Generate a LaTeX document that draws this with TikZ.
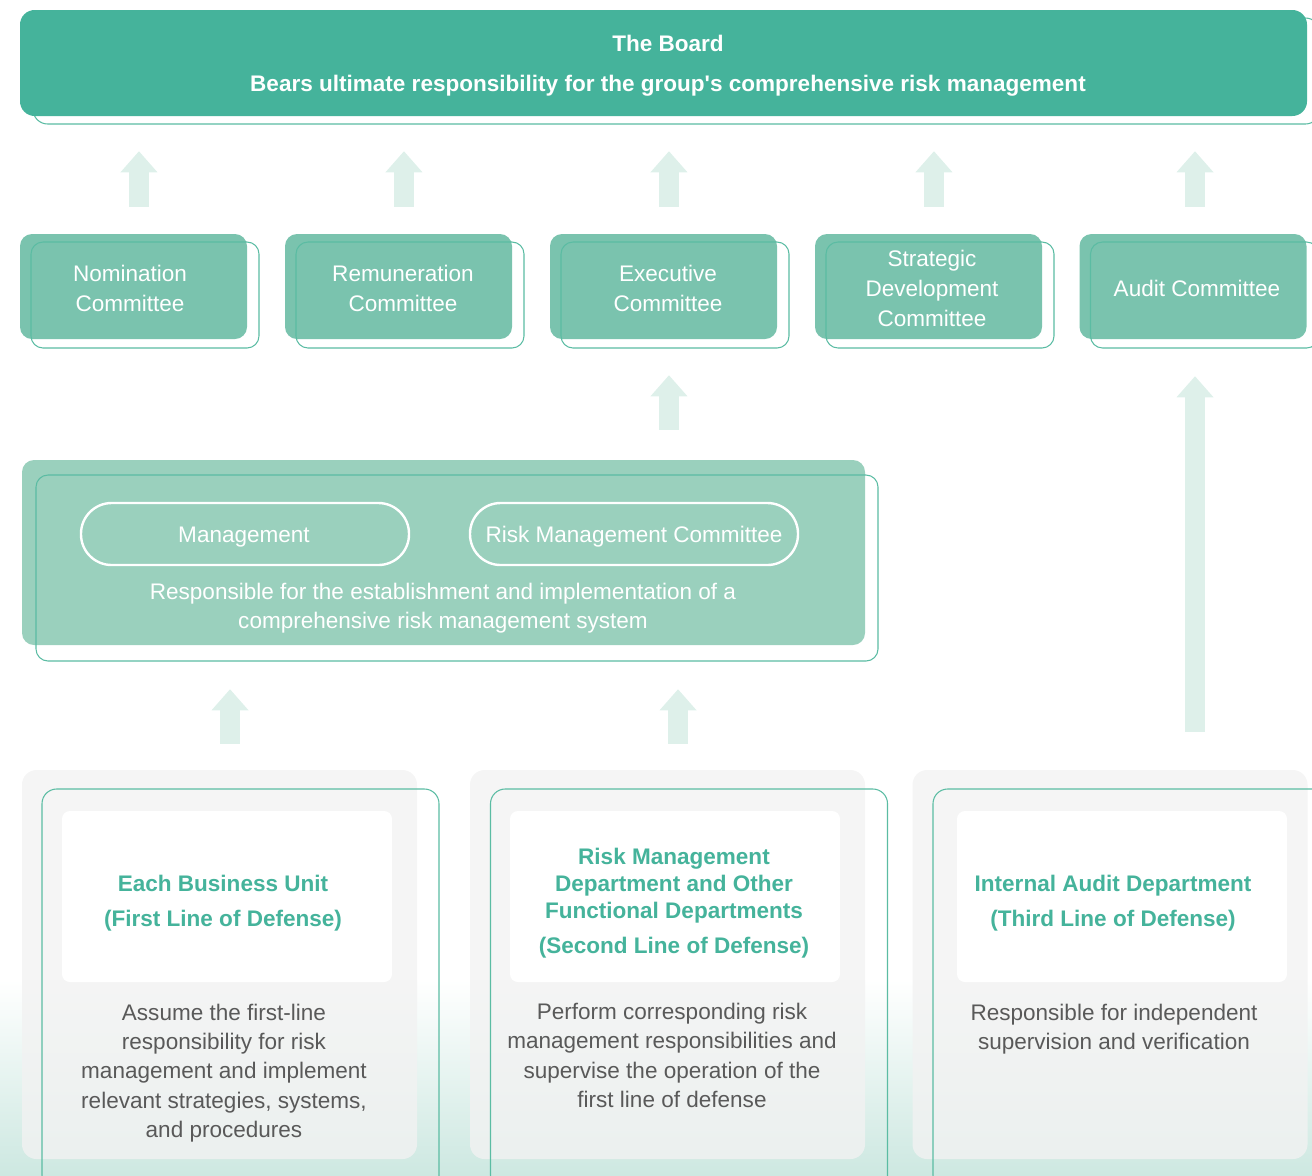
\documentclass[tikz,border=0pt]{standalone}
\usepackage{fontspec}
\setmainfont{Liberation Sans}
\usetikzlibrary{arrows.meta,calc}
\definecolor{boardc}{HTML}{45B39B}
\definecolor{commc}{HTML}{7AC3AE}
\definecolor{midc}{HTML}{9AD0BD}
\definecolor{arrowc}{HTML}{DEF0EA}
\definecolor{linec}{HTML}{5BBCA3}
\definecolor{grayc}{HTML}{F2F2F2}
\definecolor{titlec}{HTML}{45B39B}
\definecolor{descc}{HTML}{595959}
\definecolor{gradc}{HTML}{CDE8E1}
\begin{document}
\begin{tikzpicture}[x=0.75pt,y=-0.75pt,
  outl/.style={draw=linec,line width=0.8pt,inner sep=0pt},
  boardbox/.style={fill=boardc,rounded corners=11pt,minimum width=965.25pt,minimum height=79.5pt,inner sep=0pt},
  boardtext/.style={text=white,align=center,inner sep=0pt,font=\bfseries\fontsize{16.9pt}{30pt}\selectfont},
  commbox/.style={fill=commc,rounded corners=9pt,minimum width=170.25pt,minimum height=78.75pt,inner sep=0pt},
  commtext/.style={text=white,align=center,inner sep=0pt,font=\fontsize{16.9pt}{22.5pt}\selectfont},
  commout/.style={outl,rounded corners=9pt,minimum width=171pt,minimum height=79.5pt},
  midbox/.style={fill=midc,rounded corners=9pt,minimum width=632.25pt,minimum height=138.75pt,inner sep=0pt},
  midout/.style={outl,rounded corners=9pt,minimum width=631.5pt,minimum height=139.5pt},
  pill/.style={draw=white,line width=1.8pt,rounded corners=23pt,minimum width=246pt,minimum height=46.5pt,
    text=white,inner sep=0pt,font=\fontsize{16.9pt}{22pt}\selectfont},
  midtext/.style={text=white,align=center,inner sep=0pt,font=\fontsize{16.9pt}{22pt}\selectfont},
  graybox/.style={fill=grayc,fill opacity=0.8,rounded corners=11pt,minimum width=296.25pt,minimum height=291.75pt,inner sep=0pt},
  grayout/.style={outl,rounded corners=11pt,minimum width=297.75pt,minimum height=300.75pt},
  whitebox/.style={fill=white,rounded corners=6pt,minimum width=247.5pt,minimum height=128.25pt,inner sep=0pt},
  title/.style={text=titlec,align=center,inner sep=0pt,font=\bfseries\fontsize{16.9pt}{26.25pt}\selectfont},
  desc/.style={text=descc,align=center,inner sep=0pt,font=\fontsize{16.9pt}{22pt}\selectfont},
  bigarrow/.style={draw=arrowc,line width=15pt,-{Triangle[width=27.75pt,length=15.75pt,line width=0pt]}}
]
\useasboundingbox (0,0) rectangle (1312,1175);
\clip (0,0) rectangle (1312,1175);
% background gradient
\shade[top color=white,bottom color=gradc] (0,980) rectangle (1312,1175);

% board
\node[outl,rounded corners=11pt,minimum width=965.25pt,minimum height=79.5pt] (boardo) at (676.5,71) {};
\node[boardbox] (board) at (663.5,63) {};
\node[boardtext] (boardt) at (668,66) {The Board\\Bears ultimate responsibility for the group\textquotesingle s comprehensive risk management};

% committees
\node[commbox] (c1) at (133.5,286.5) {};
\node[commbox] (c2) at (398.5,286.5) {};
\node[commbox] (c3) at (663.5,286.5) {};
\node[commbox] (c4) at (928.5,286.5) {};
\node[commbox] (c5) at (1193,286.5) {};
\node[commout] (c1o) at (145,295) {};
\node[commout] (c2o) at (410,295) {};
\node[commout] (c3o) at (675,295) {};
\node[commout] (c4o) at (940,295) {};
\node[commout] (c5o) at (1204.5,295) {};
\node[commtext] (c1t) at (130,288.5) {Nomination\\Committee};
\node[commtext] (c2t) at (403,288.5) {Remuneration\\Committee};
\node[commtext] (c3t) at (668,288.5) {Executive\\Committee};
\node[commtext] (c4t) at (932,288) {Strategic\\Development\\Committee};
\node[commtext] (c5t) at (1197,288.5) {Audit Committee};

% middle block
\node[midbox] (mid) at (443.5,552.5) {};
\node[midout] (mido) at (457,568) {};
\node[pill] (mgmt) at (245,534) {};
\node[pill] (rmc) at (634,534) {};
\node[midtext] (mgmtt) at (244,537) {Management};
\node[midtext] (rmct) at (634,537) {Risk Management Committee};
\node[midtext] (midt) at (443,608) {Responsible for the establishment and implementation of a\\comprehensive risk management system};

% bottom boxes
\node[graybox] (g1) at (219.5,964.5) {};
\node[graybox] (g2) at (667.5,964.5) {};
\node[graybox] (g3) at (1110,964.5) {};
\node[grayout] (g1o) at (240.5,989.5) {};
\node[grayout] (g2o) at (689,989.5) {};
\node[grayout] (g3o) at (1131.5,989.5) {};
\node[whitebox] (w1) at (227,896.5) {};
\node[whitebox] (w2) at (675,896.5) {};
\node[whitebox] (w3) at (1122,896.5) {};
\node[title] (t1) at (223,903) {Each Business Unit\\(First Line of Defense)};
\node[title] (t2) at (674,903) {Risk Management\\[-6pt]Department and Other\\[-6pt]Functional Departments\\(Second Line of Defense)};
\node[title] (t3) at (1113,903) {Internal Audit Department\\(Third Line of Defense)};
\node[desc] (d1) at (224,1073) {Assume the first-line\\responsibility for risk\\management and implement\\relevant strategies, systems,\\and procedures};
\node[desc] (d2) at (672,1055.5) {Perform corresponding risk\\management responsibilities and\\supervise the operation of the\\first line of defense};
\node[desc] (d3) at (1114,1029) {Responsible for independent\\supervision and verification};

% arrows committees -> board
\foreach \c in {c1,c2,c3,c4}{
  \draw[bigarrow,shorten <=20.25pt,shorten >=26.25pt] ($(\c.north)+(4.1pt,0)$) -- ($(\c.north |- board.south)+(4.1pt,0)$);
}
\draw[bigarrow,shorten <=20.25pt,shorten >=26.25pt] ($(c5.north)+(1.5pt,0)$) -- ($(c5.north |- board.south)+(1.5pt,0)$);
% middle -> executive
\draw[bigarrow,shorten <=22.5pt,shorten >=27pt] ($(c3.south |- mid.north)+(4.1pt,0)$) -- ($(c3.south)+(4.1pt,0)$);
% bottom -> middle
\draw[bigarrow,shorten <=19.5pt,shorten >=33pt] ($(g1.north)+(7.9pt,0)$) -- ($(g1.north |- mid.south)+(7.9pt,0)$);
\draw[bigarrow,shorten <=19.5pt,shorten >=33pt] ($(g2.north)+(7.9pt,0)$) -- ($(g2.north |- mid.south)+(7.9pt,0)$);
% internal audit -> audit committee
\draw[bigarrow,shorten <=28.5pt,shorten >=27.75pt] ($(c5.south |- g3.north)+(1.5pt,0)$) -- ($(c5.south)+(1.5pt,0)$);
\end{tikzpicture}
\end{document}
